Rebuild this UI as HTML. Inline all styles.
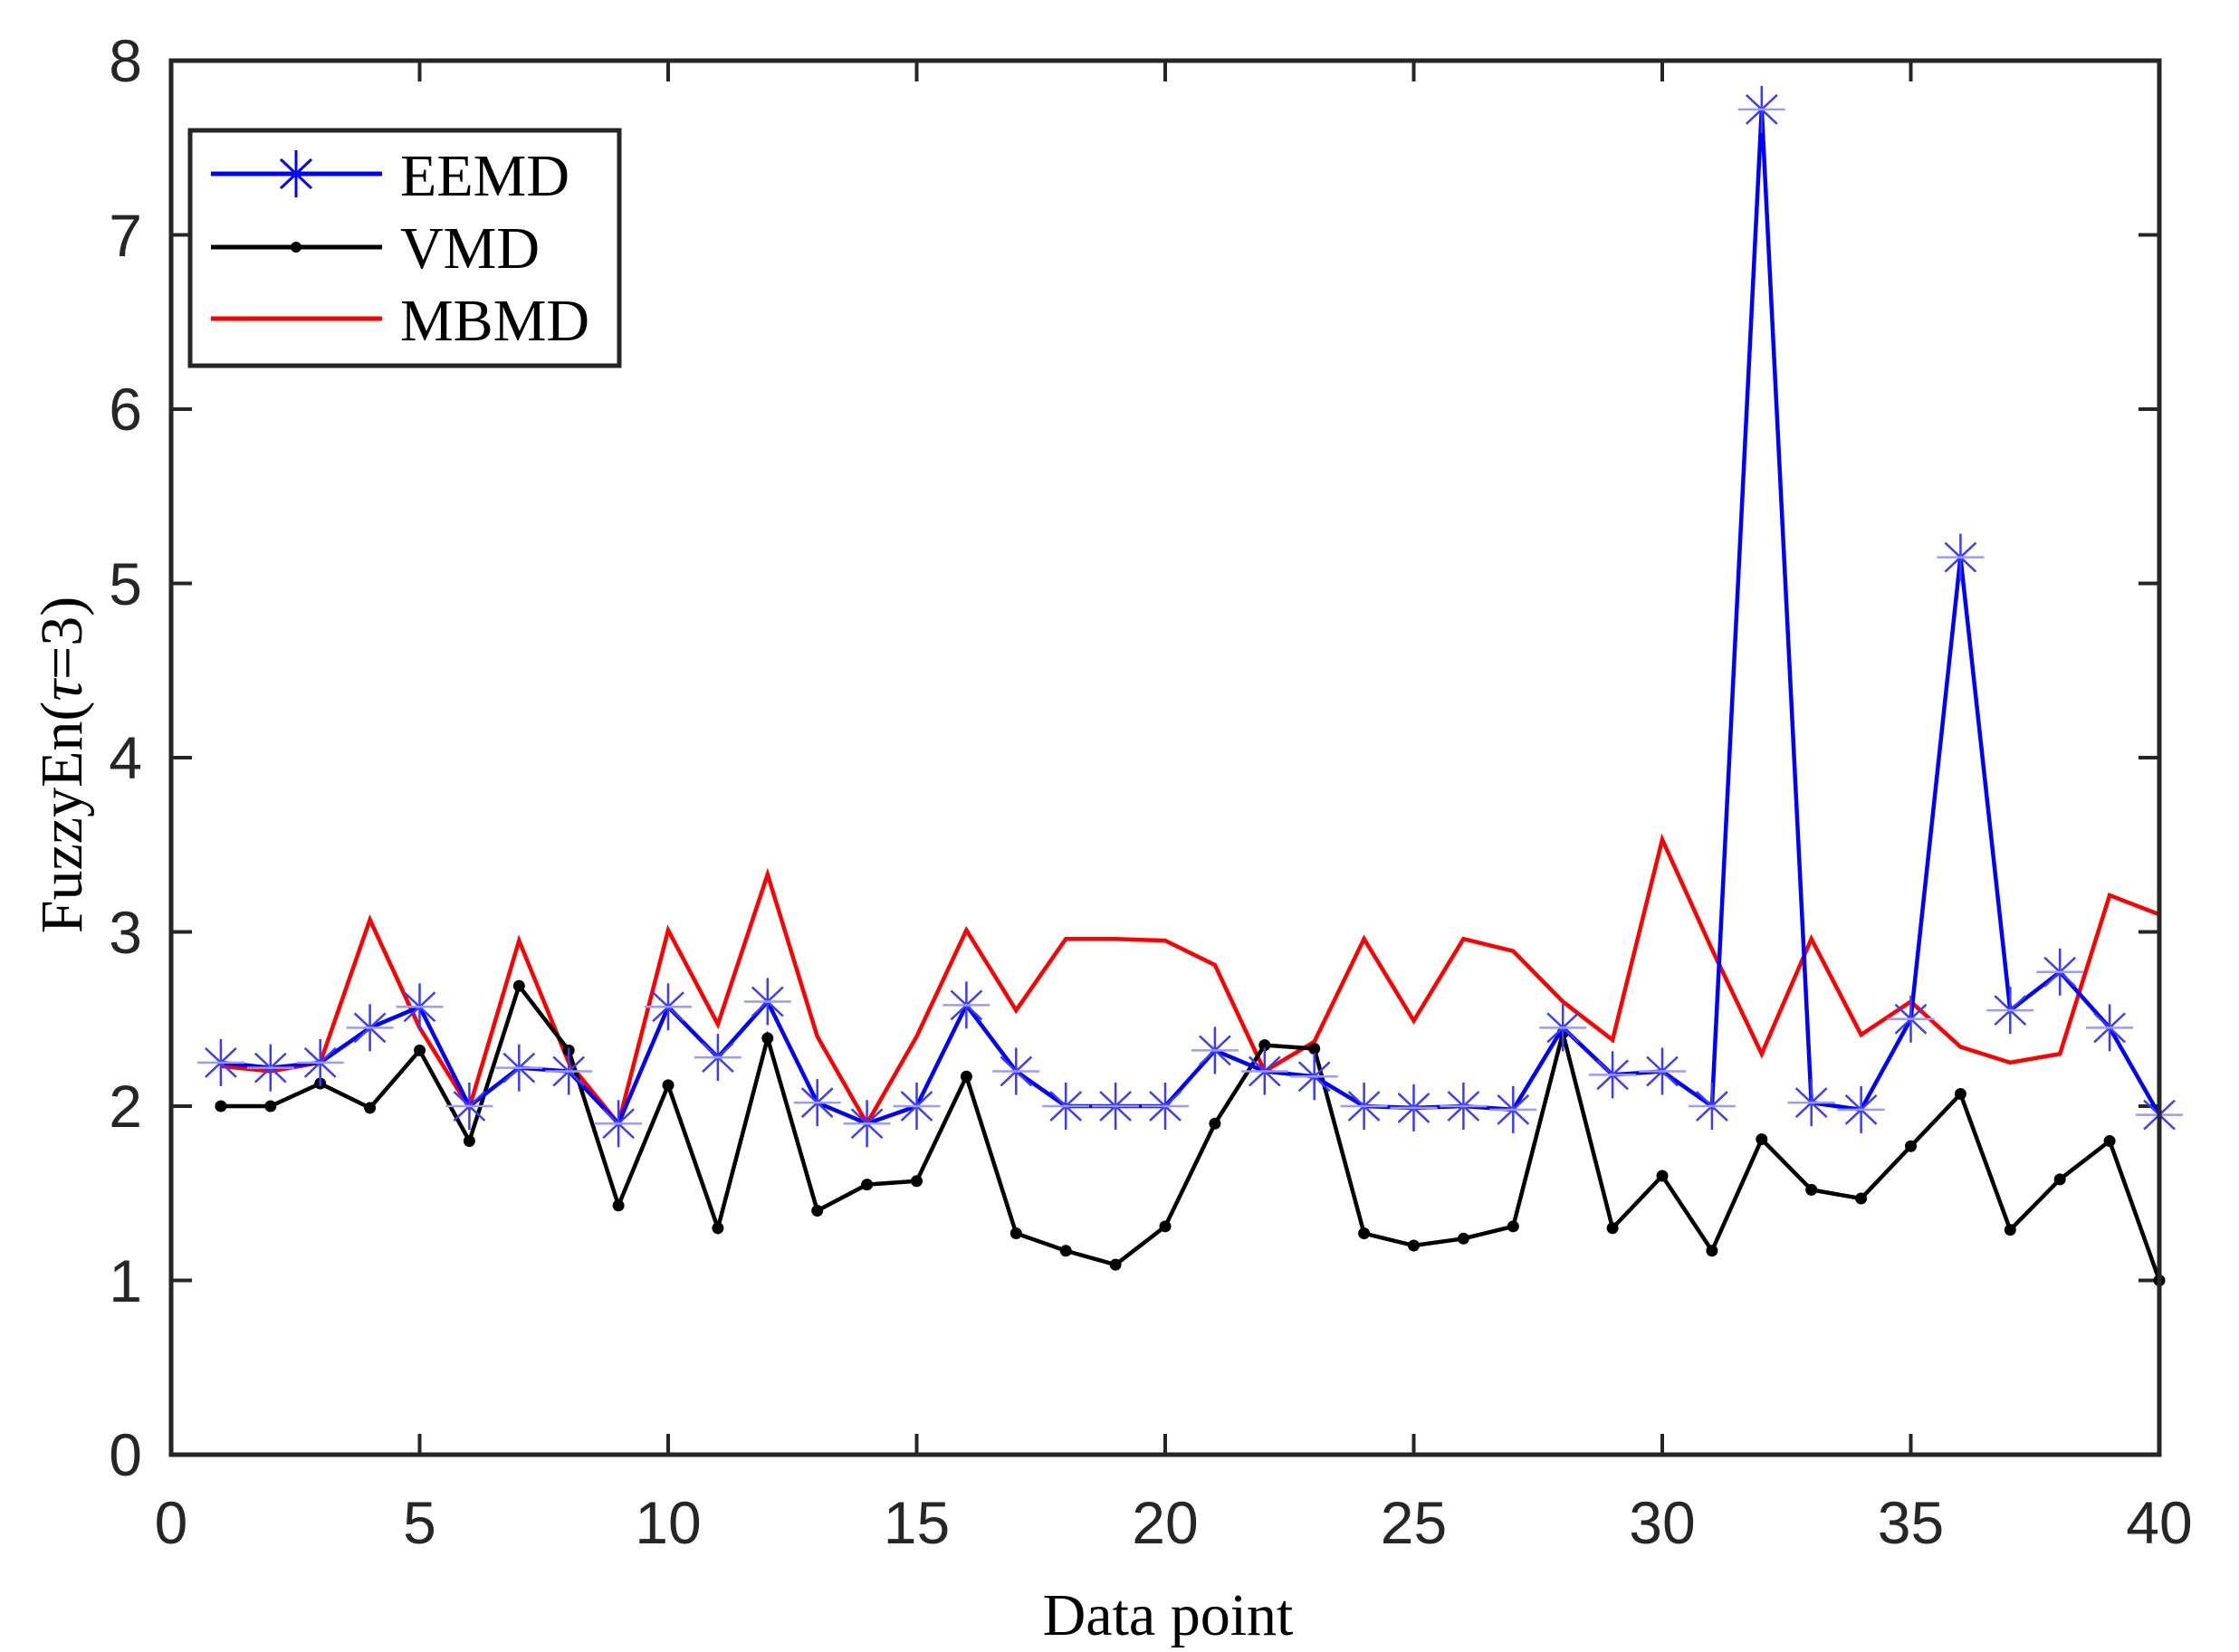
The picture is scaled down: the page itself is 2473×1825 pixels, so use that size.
<!DOCTYPE html>
<html><head><meta charset="utf-8"><style>
html,body{margin:0;padding:0;background:#fff;}
svg{display:block;}
.t{font-family:"Liberation Sans",Arial,sans-serif;font-size:66px;fill:#262626;}
.s{font-family:"Liberation Serif","Times New Roman",serif;font-size:66px;fill:#000;}
</style></head><body>
<svg id="c" width="2473" height="1825" viewBox="0 0 2473 1825" xmlns="http://www.w3.org/2000/svg">
<rect width="2473" height="1825" fill="#fff"/>
<g id="ticks" stroke="#262626" stroke-width="4"></g>
<g id="series"></g>
<rect x="189" y="67" width="2196" height="1540" fill="none" stroke="#262626" stroke-width="5"/>
<g class="t" text-anchor="end">
<text x="157" y="1630">0</text><text x="157" y="1438">1</text><text x="157" y="1245">2</text><text x="157" y="1053">3</text><text x="157" y="860">4</text><text x="157" y="668">5</text><text x="157" y="475">6</text><text x="157" y="283">7</text><text x="157" y="90">8</text>
</g>
<g class="t" text-anchor="middle">
<text x="189" y="1705">0</text><text x="463.5" y="1705">5</text><text x="738" y="1705">10</text><text x="1012.5" y="1705">15</text><text x="1287" y="1705">20</text><text x="1561.5" y="1705">25</text><text x="1836" y="1705">30</text><text x="2110.5" y="1705">35</text><text x="2385" y="1705">40</text>
</g>
<text class="s" x="1290" y="1806" text-anchor="middle">Data point</text>
<text class="s" x="0" y="0" text-anchor="middle" transform="translate(90,845) rotate(-90)">FuzzyEn(<tspan font-style="italic">τ</tspan>=3)</text>
<rect x="210" y="144" width="474" height="260" fill="#fff" stroke="#262626" stroke-width="5"/>
<line x1="233" y1="192" x2="422" y2="192" stroke="#0000ff" stroke-width="5"/>
<g stroke="#0000ff" stroke-width="3"><line x1="327" y1="166" x2="327" y2="218"/><line x1="310" y1="176" x2="344" y2="208"/><line x1="310" y1="208" x2="344" y2="176"/></g>
<line x1="233" y1="273" x2="422" y2="273" stroke="#000" stroke-width="5"/>
<circle cx="327" cy="273" r="6" fill="#000"/>
<line x1="233" y1="352" x2="422" y2="352" stroke="#ff0000" stroke-width="5"/>
<text class="s" x="442" y="216">EEMD</text>
<text class="s" x="442" y="296">VMD</text>
<text class="s" x="442" y="376">MBMD</text>
</svg>
<script>
var L=189,R=2385,T=67,B=1607;
function X(i){return L+(R-L)*i/40;}function Y(v){return B-(B-T)*v/8;}
var tk=document.getElementById('ticks'),s='';
for(var i=5;i<40;i+=5){s+='<line x1="'+X(i)+'" y1="'+B+'" x2="'+X(i)+'" y2="'+(B-23)+'"/><line x1="'+X(i)+'" y1="'+T+'" x2="'+X(i)+'" y2="'+(T+23)+'"/>';}
for(var v=1;v<8;v++){s+='<line x1="'+L+'" y1="'+Y(v)+'" x2="'+(L+23)+'" y2="'+Y(v)+'"/><line x1="'+R+'" y1="'+Y(v)+'" x2="'+(R-23)+'" y2="'+Y(v)+'"/>';}
tk.innerHTML=s;
var E=[2.25,2.22,2.25,2.45,2.57,2.0,2.22,2.2,1.9,2.57,2.28,2.6,2.02,1.9,2.0,2.58,2.2,2.0,2.0,2.0,2.32,2.2,2.17,2.0,1.99,2.0,1.98,2.45,2.18,2.2,2.0,7.72,2.02,1.98,2.5,5.15,2.55,2.77,2.45,1.95];
var V=[2.0,2.0,2.13,1.99,2.32,1.8,2.69,2.32,1.43,2.12,1.3,2.39,1.4,1.55,1.57,2.17,1.27,1.17,1.09,1.31,1.9,2.35,2.33,1.27,1.2,1.24,1.31,2.42,1.3,1.6,1.17,1.81,1.52,1.47,1.77,2.07,1.29,1.58,1.8,1.0];
var M=[2.23,2.2,2.25,3.07,2.45,1.99,2.95,2.25,1.9,3.01,2.47,3.33,2.4,1.9,2.4,3.01,2.55,2.96,2.96,2.95,2.81,2.2,2.37,2.96,2.49,2.96,2.89,2.6,2.38,3.53,2.9,2.3,2.96,2.41,2.6,2.34,2.25,2.3,3.21,3.1];
function pts(a){return a.map(function(v,i){return X(i+1)+','+Y(v);}).join(' ');}
var g='';
g+='<polyline points="'+pts(M)+'" fill="none" stroke="#ff0000" stroke-width="4.5"/>';
g+='<polyline points="'+pts(V)+'" fill="none" stroke="#000" stroke-width="4.5"/>';
V.forEach(function(v,i){g+='<circle cx="'+X(i+1)+'" cy="'+Y(v)+'" r="6.5" fill="#000"/>';});
g+='<polyline points="'+pts(E)+'" fill="none" stroke="#0000ff" stroke-width="4.5"/>';
E.forEach(function(v,i){var x=X(i+1),y=Y(v);
g+='<g stroke="#3b3bff" stroke-width="2.5"><line x1="'+x+'" y1="'+(y-26)+'" x2="'+x+'" y2="'+(y+26)+'"/><line x1="'+(x-17)+'" y1="'+(y-16)+'" x2="'+(x+17)+'" y2="'+(y+16)+'"/><line x1="'+(x-17)+'" y1="'+(y+16)+'" x2="'+(x+17)+'" y2="'+(y-16)+'"/><line x1="'+(x-26)+'" y1="'+y+'" x2="'+(x+26)+'" y2="'+y+'" stroke="#9a9aff"/></g>';});
document.getElementById('series').innerHTML=g;
</script>
</body></html>
